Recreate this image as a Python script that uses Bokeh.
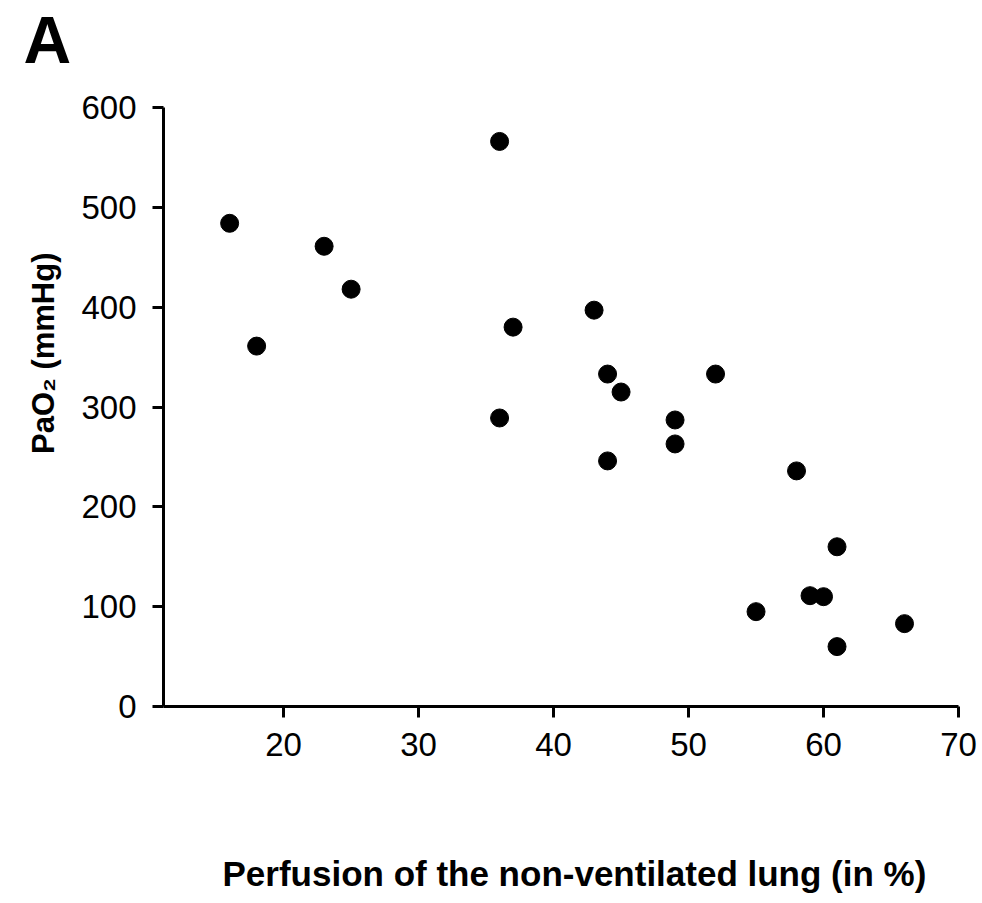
from bokeh.plotting import figure
from bokeh.models import Range1d, FixedTicker, Title
from bokeh.embed import file_html
from bokeh.resources import INLINE

perfusion = [16, 18, 23, 25, 36, 36, 37, 43, 44, 44, 45, 49, 49, 52, 55, 58, 59, 60, 61, 61, 66]
pao2 = [484, 361, 461, 418, 566, 289, 380, 397, 333, 246, 315, 287, 263, 333, 95, 236, 111, 110, 160, 60, 83]
x_ticks = [20, 30, 40, 50, 60, 70]
y_ticks = [0, 100, 200, 300, 400, 500, 600]
x_label = "Perfusion of the non-ventilated lung (in %)"
y_label = "PaO\u2082 (mmHg)"
panel_letter = "A"

FONT = "Liberation Sans"

p = figure(width=982, height=903, output_backend="svg", toolbar_location=None, title=None,
           x_range=Range1d(11.1, 70), y_range=Range1d(0, 600),
           min_border_left=163, min_border_right=24, min_border_top=107, min_border_bottom=197)
p.outline_line_color = None
p.xgrid.visible = False
p.ygrid.visible = False
p.background_fill_color = "white"
p.border_fill_color = "white"

p.scatter(perfusion, pao2, size=18, color="black")

for ax in (p.xaxis[0], p.yaxis[0]):
    ax.axis_line_width = 3
    ax.axis_line_color = "black"
    ax.major_tick_line_width = 3
    ax.major_tick_line_color = "black"
    ax.major_tick_in = 0
    ax.major_tick_out = 11
    ax.minor_tick_line_color = None
    ax.major_label_text_font = FONT
    ax.major_label_text_font_size = "33px"
    ax.major_label_text_color = "black"

p.xaxis.ticker = FixedTicker(ticks=x_ticks)
p.yaxis.ticker = FixedTicker(ticks=y_ticks)
p.xaxis.major_label_standoff = 15
p.yaxis.major_label_standoff = 16

# panel letter (spacer title keeps it clear of the frame)
p.add_layout(Title(text=" ", text_font=FONT, text_font_size="10px", standoff=18), "above")
p.add_layout(Title(text=panel_letter, text_font=FONT, text_font_style="bold", text_font_size="66px",
                   text_color="black", align="left", offset=-140, standoff=0), "above")

# x axis title, placed lower and slightly right of centre like the reference
p.add_layout(Title(text=" ", text_font=FONT, text_font_size="10px", standoff=80), "below")
p.add_layout(Title(text=x_label, text_font=FONT, text_font_style="bold", text_font_size="35px",
                   text_color="black", align="left", offset=59, standoff=0), "below")

# y axis title, above centre like the reference
p.add_layout(Title(text=y_label, text_font=FONT, text_font_style="bold", text_font_size="31px",
                   text_color="black", align="right", offset=145, standoff=36), "left")

open("out.html", "w").write(file_html(p, INLINE))
